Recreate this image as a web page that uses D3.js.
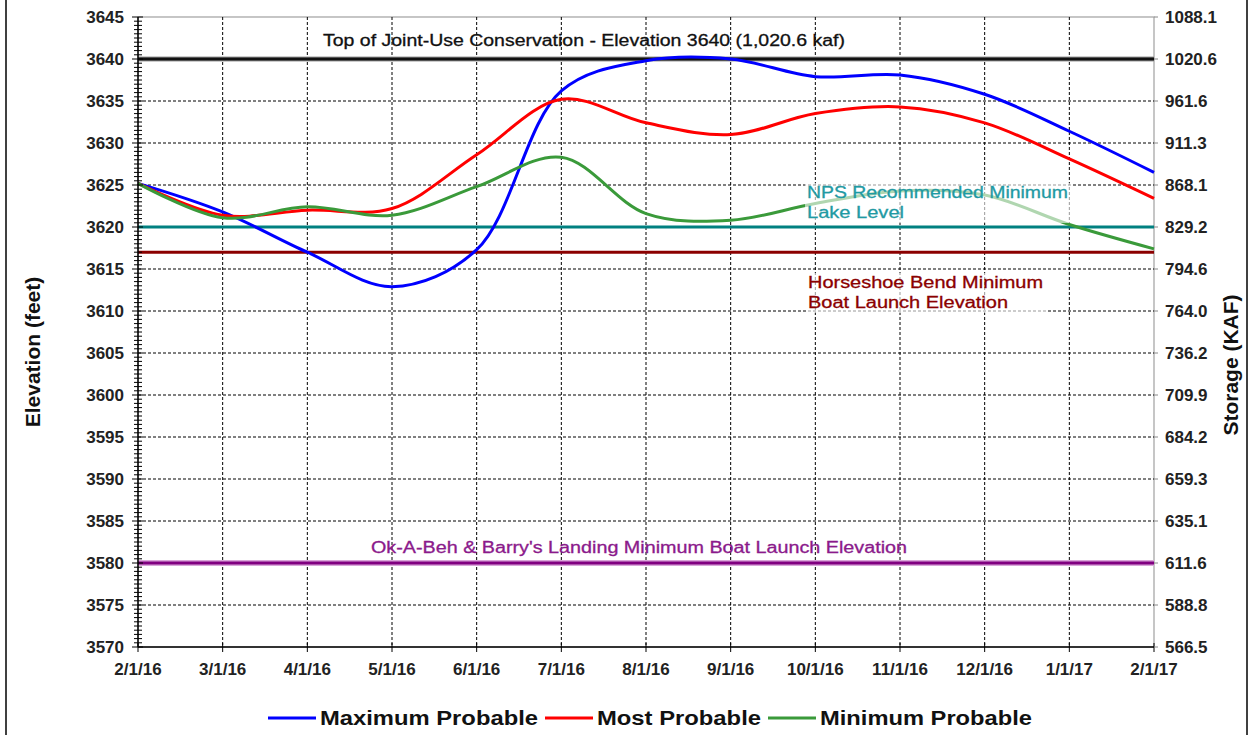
<!DOCTYPE html>
<html><head><meta charset="utf-8">
<script src="https://cdn.jsdelivr.net/npm/d3@7/dist/d3.min.js"></script>
<style>
body{margin:0;background:#fff;}
svg{display:block;font-family:"Liberation Sans",Arial,sans-serif;}
</style></head>
<body>
<svg id="chart" width="1252" height="735"></svg>
<script>
// ---------- data ----------
const months = ["2/1/16","3/1/16","4/1/16","5/1/16","6/1/16","7/1/16","8/1/16","9/1/16","10/1/16","11/1/16","12/1/16","1/1/17","2/1/17"];
const maxProbable  = [3625.2, 3621.8, 3617.0, 3612.9, 3617.3, 3636.2, 3639.8, 3640.0, 3637.9, 3638.1, 3635.8, 3631.4, 3626.5];
const mostProbable = [3625.2, 3621.4, 3622.0, 3622.2, 3628.6, 3635.2, 3632.4, 3631.0, 3633.5, 3634.3, 3632.4, 3628.1, 3623.4];
const minProbable  = [3625.2, 3621.1, 3622.4, 3621.4, 3624.8, 3628.3, 3621.6, 3620.8, 3622.8, 3624.3, 3623.8, 3620.3, 3617.4];
const elevTicks = [3570,3575,3580,3585,3590,3595,3600,3605,3610,3615,3620,3625,3630,3635,3640,3645];
const storageLabels = ["566.5","588.8","611.6","635.1","659.3","684.2","709.9","736.2","764.0","794.6","829.2","868.1","911.3","961.6","1020.6","1088.1"];
const seriesNames = ["Maximum Probable","Most Probable","Minimum Probable"];
const refElevations = [3640, 3620, 3617, 3580];
const refLabels = [
  ["Top of Joint-Use Conservation - Elevation 3640 (1,020.6 kaf)"],
  ["NPS Recommended Minimum","Lake Level"],
  ["Horseshoe Bend Minimum","Boat Launch Elevation"],
  ["Ok-A-Beh & Barry's Landing Minimum Boat Launch Elevation"]
];

// ---------- styles ----------
const seriesColors = ["#0000ff","#ff0000","#3a9a3a"];
const refColors = ["#111111","#008080","#8b0000","#800080"];
const refTextColors = ["#111111","#1f9aa3","#8b0000","#8b1a8b"];

const svg = d3.select("#chart");
const L = 138, R = 1154, T = 17, B = 647;
const x = d3.scaleLinear().domain([0, months.length - 1]).range([L, R]);
const y = d3.scaleLinear().domain([3570, 3645]).range([B, T]);

// outer frame
svg.append("line").attr("x1",6).attr("x2",6).attr("y1",0).attr("y2",735).attr("stroke","#000").attr("stroke-width",1.5);
svg.append("line").attr("x1",1247).attr("x2",1247).attr("y1",0).attr("y2",735).attr("stroke","#000").attr("stroke-width",1.5);

// plot border (top/right gray)
svg.append("rect").attr("x",L).attr("y",T).attr("width",R-L).attr("height",B-T)
  .attr("fill","none").attr("stroke","#a0a0a0").attr("stroke-width",1.2);

// grid
const grid = svg.append("g");
grid.selectAll(".hg").data(elevTicks.filter(d => d>3570 && d<3645)).join("line")
  .attr("x1",L).attr("x2",R).attr("y1",d=>y(d)).attr("y2",d=>y(d))
  .attr("stroke","#000").attr("stroke-width",1).attr("stroke-dasharray","3,2");
grid.selectAll(".vg").data(d3.range(1, months.length-1)).join("line")
  .attr("x1",d=>x(d)).attr("x2",d=>x(d)).attr("y1",T).attr("y2",B)
  .attr("stroke","#000").attr("stroke-width",1).attr("stroke-dasharray","3,2");

// reference lines
refElevations.forEach((e,i)=>{
  if (i===3) {
    svg.append("line").attr("x1",L).attr("x2",R).attr("y1",y(e)).attr("y2",y(e))
      .attr("stroke","#d9a6d9").attr("stroke-width",6);
  }
  if (i===0) {
    svg.append("line").attr("x1",L).attr("x2",R).attr("y1",y(e)).attr("y2",y(e))
      .attr("stroke","#999").attr("stroke-width",5);
  }
  svg.append("line").attr("x1",L).attr("x2",R).attr("y1",y(e)).attr("y2",y(e))
    .attr("stroke",refColors[i]).attr("stroke-width",3);
});

// series
const line = d3.line().x((d,i)=>x(i)).y(d=>y(d)).curve(d3.curveCatmullRom.alpha(0.5));
[maxProbable, mostProbable, minProbable].forEach((s,i)=>{
  svg.append("path").datum(s).attr("d",line).attr("fill","none")
    .attr("stroke",seriesColors[i]).attr("stroke-width",3).attr("stroke-linejoin","round");
});

// reference labels
const labelPos = [
  {x:323, y:46, w:[522], fs:16, dy:0, box:false},
  {x:807, y:198, w:[261, 97], fs:16, dy:20, box:true},
  {x:808, y:288, w:[235, 200], fs:16, dy:20, box:true},
  {x:371, y:553, w:[536], fs:16, dy:0, box:false}
];
refLabels.forEach((lines,i)=>{
  const p = labelPos[i];
  if (p.box) {
    svg.append("rect").attr("x",p.x-2).attr("y",p.y-15).attr("width",d3.max(p.w)+6).attr("height",p.dy*(lines.length-1)+20)
      .attr("fill","#fff").attr("fill-opacity",0.6);
  }
  lines.forEach((t,j)=>{
    svg.append("text").attr("x",p.x).attr("y",p.y + j*p.dy).text(t)
      .attr("font-size",p.fs).attr("fill",refTextColors[i])
      .attr("textLength",p.w[j]).attr("lengthAdjust","spacingAndGlyphs")
      .attr("stroke",refTextColors[i]).attr("stroke-width",0.3);
  });
});

// left axis
const leftAxis = svg.append("g");
leftAxis.append("line").attr("x1",L).attr("x2",L).attr("y1",T).attr("y2",B).attr("stroke","#000").attr("stroke-width",1.5);
const minor = d3.range(3570, 3645.01, 0.5);
leftAxis.selectAll(".mt").data(minor).join("line")
  .attr("x1",d => (d%5===0) ? L-6 : L-4).attr("x2",d => (d%5===0) ? L+5 : L+4)
  .attr("y1",d=>y(d)).attr("y2",d=>y(d)).attr("stroke","#000").attr("stroke-width",1);
leftAxis.selectAll(".tl").data(elevTicks).join("text")
  .attr("x",L-14).attr("y",d=>y(d)+6).attr("text-anchor","end")
  .attr("font-size",17).attr("font-weight","bold").attr("fill","#222").text(d=>d);

// bottom axis
const bAxis = svg.append("g");
bAxis.append("line").attr("x1",L).attr("x2",R).attr("y1",B).attr("y2",B).attr("stroke","#000").attr("stroke-width",1.5);
bAxis.selectAll(".bt").data(months).join("line")
  .attr("x1",(d,i)=>x(i)).attr("x2",(d,i)=>x(i)).attr("y1",B-4).attr("y2",B+5).attr("stroke","#000").attr("stroke-width",1);
bAxis.selectAll(".bl").data(months).join("text")
  .attr("x",(d,i)=>x(i)).attr("y",B+28).attr("text-anchor","middle")
  .attr("font-size",17).attr("font-weight","bold").attr("fill","#222").text(d=>d);

// right axis
const rAxis = svg.append("g");
rAxis.selectAll(".rt").data(elevTicks).join("line")
  .attr("x1",R).attr("x2",R+4).attr("y1",d=>y(d)).attr("y2",d=>y(d)).attr("stroke","#888");
rAxis.selectAll(".rl").data(storageLabels).join("text")
  .attr("x",R+11).attr("y",(d,i)=>y(elevTicks[i])+6)
  .attr("font-size",17).attr("font-weight","bold").attr("fill","#222").text(d=>d);

// axis titles
svg.append("text").attr("transform","translate(40,352) rotate(-90)").attr("text-anchor","middle")
  .attr("font-size",21).attr("font-weight","bold").attr("fill","#111").text("Elevation (feet)");
svg.append("text").attr("transform","translate(1238,365) rotate(-90)").attr("text-anchor","middle")
  .attr("font-size",21).attr("font-weight","bold").attr("fill","#111").text("Storage (KAF)");

// legend
const legX = [268, 545, 768];
const legW = [218, 164, 212];
seriesNames.forEach((n,i)=>{
  svg.append("line").attr("x1",legX[i]).attr("x2",legX[i]+48).attr("y1",718).attr("y2",718)
    .attr("stroke",seriesColors[i]).attr("stroke-width",3);
  svg.append("text").attr("x",legX[i]+52).attr("y",725).text(n)
    .attr("font-size",20).attr("font-weight","bold").attr("fill","#111")
    .attr("textLength",legW[i]).attr("lengthAdjust","spacingAndGlyphs");
});
</script>
</body></html>
